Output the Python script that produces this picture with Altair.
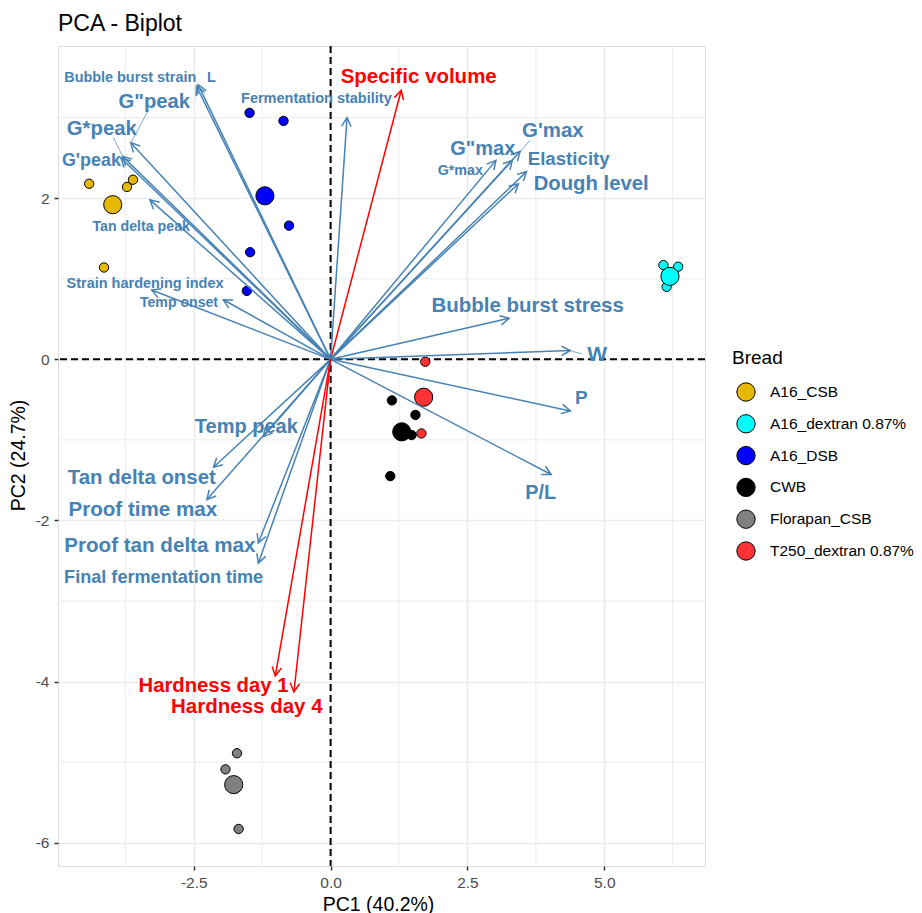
import altair as alt
import pandas as pd
import numpy as np

# ---------------- data ----------------
groups = ["A16_CSB", "A16_dextran 0.87%", "A16_DSB", "CWB", "Florapan_CSB", "T250_dextran 0.87%"]
group_colors = ["#E7B800", "#00FFFF", "#0000FF", "#000000", "#808080", "#FF3333"]

ind_group = (["A16_CSB"] * 4 + ["A16_DSB"] * 5 + ["A16_dextran 0.87%"] * 3
             + ["CWB"] * 4 + ["Florapan_CSB"] * 3 + ["T250_dextran 0.87%"] * 2)
ind_x = [-4.41, -3.61, -3.72, -4.14,
         -1.48, -0.86, -0.76, -1.47, -1.53,
         6.08, 6.35, 6.14,
         1.12, 1.55, 1.48, 1.09,
         -1.71, -1.92, -1.68,
         1.73, 1.66]
ind_y = [2.18, 2.23, 2.14, 1.14,
         3.06, 2.96, 1.66, 1.33, 0.85,
         1.17, 1.15, 0.90,
         -0.51, -0.69, -0.94, -1.45,
         -4.89, -5.09, -5.83,
         -0.03, -0.92]

mean_group = ["A16_CSB", "A16_dextran 0.87%", "A16_DSB", "CWB", "Florapan_CSB", "T250_dextran 0.87%"]
mean_x = [-3.98, 6.20, -1.20, 1.30, -1.77, 1.70]
mean_y = [1.92, 1.03, 2.03, -0.90, -5.28, -0.47]

var_names = ["Specific volume", "Fermentation stability", "Bubble burst strain", "L",
             "G\"peak", "G*peak", "G'peak", "Tan delta peak", "Strain hardening index",
             "Temp onset", "G*max", "G\"max", "G'max", "Elasticity", "Dough level",
             "Bubble burst stress", "W", "P", "P/L", "Temp peak", "Tan delta onset",
             "Proof time max", "Proof tan delta max", "Final fermentation time",
             "Hardness day 1", "Hardness day 4"]
var_tip_x = [1.29, 0.30, -2.45, -2.42, -3.65, -3.80, -3.83, -3.30, -3.27, -1.96,
             3.02, 3.32, 3.46, 3.58, 3.43, 3.26, 4.38, 4.38, 4.03, -1.23, -2.14,
             -2.26, -1.32, -1.32, -1.01, -0.67]
var_tip_y = [3.34, 3.00, 3.39, 3.41, 2.69, 2.52, 2.50, 1.98, 0.86, 0.74,
             2.47, 2.47, 2.58, 2.33, 2.18, 0.51, 0.11, -0.64, -1.43, -0.96, -1.34,
             -1.74, -2.28, -2.53, -3.93, -4.13]
var_lab_x = [1.61, -0.26, -3.66, -2.18, -3.22, -4.18, -4.37, -3.46, -3.39, -2.77,
             2.37, 2.78, 4.06, 4.35, 4.76, 3.60, 4.87, 4.58, 3.84, -1.54, -3.45,
             -3.43, -3.12, -3.05, -2.14, -1.53]
var_lab_y = [3.51, 3.23, 3.49, 3.49, 3.20, 2.86, 2.46, 1.64, 0.94, 0.70,
             2.34, 2.61, 2.84, 2.49, 2.18, 0.66, 0.06, -0.48, -1.66, -0.84, -1.47,
             -1.87, -2.32, -2.72, -4.05, -4.32]
var_lab_size = [20.5, 14.5, 14.4, 14.4, 20.3, 20.3, 17.9, 14.2, 14.5, 14.1,
                14.3, 20.0, 20.4, 18.7, 20.3, 20.5, 21.0, 19.0, 19.9, 20.0, 20.4,
                20.6, 20.6, 18.1, 20.3, 20.5]
var_color = ["#FF0000"] + ["#4682B4"] * 23 + ["#FF0000", "#FF0000"]

lead_x1 = [-3.33, -3.97, 3.64, 4.41]
lead_y1 = [3.09, 2.76, 2.72, 0.10]
lead_x2 = [-3.64, -3.80, 3.46, 4.59]
lead_y2 = [2.70, 2.52, 2.57, 0.07]

x_major = [-2.5, 0.0, 2.5, 5.0]
y_major = [-6, -4, -2, 0, 2]
x_minor = [-3.75, -1.25, 1.25, 3.75, 6.25]
y_minor = [-5, -3, -1, 1, 3]

# ---------------- layout ----------------
W, H = 647, 820
XD = [-4.98, 6.84]
YD = [-6.29, 3.89]
FONT = "Liberation Sans"

xs = alt.Scale(domain=XD, nice=False, zero=False)
ys = alt.Scale(domain=YD, nice=False, zero=False)

axis_common = dict(grid=True, gridColor="#EBEBEB", gridWidth=1.6, domain=False,
                   ticks=True, tickSize=4, tickWidth=1.5, tickColor="#333333",
                   labelFont=FONT, labelFontSize=15.5, labelColor="#4D4D4D",
                   labelPadding=5, labelFlush=False, labelOverlap=False,
                   titleFont=FONT, titleFontSize=19.5, titleFontWeight="normal",
                   titleColor="black", titleAlign="center", titleBaseline="middle")
xaxis = alt.Axis(values=x_major, title="PC1 (40.2%)",
                 labelExpr="replace(format(datum.value, '.1f'), '\u2212', '-')",
                 titleX=320, titleY=38, **axis_common)
yaxis = alt.Axis(values=y_major, title="PC2 (24.7%)",
                 labelExpr="replace(format(datum.value, 'd'), '\u2212', '-')",
                 titleX=-40, titleY=409, titleAngle=270, **axis_common)


def X(f):
    return alt.X(f, type="quantitative", scale=xs, axis=xaxis)


def Y(f):
    return alt.Y(f, type="quantitative", scale=ys, axis=yaxis)


# ---------------- frames ----------------
pts = pd.DataFrame({
    "group": ind_group + mean_group,
    "x": ind_x + mean_x,
    "y": ind_y + mean_y,
    "sz": [87] * len(ind_x) + [330] * len(mean_x),
})

kx = W / (XD[1] - XD[0])
ky = H / (YD[1] - YD[0])
tx = np.array(var_tip_x)
ty = np.array(var_tip_y)
ang = np.degrees(np.arctan2(tx * kx, ty * ky)) % 360

dv = pd.DataFrame({
    "name": var_names, "x0": 0.0, "y0": 0.0,
    "tx": var_tip_x, "ty": var_tip_y, "ang": ang,
    "lx": var_lab_x, "ly": var_lab_y, "fs": var_lab_size, "col": var_color,
})
dl = pd.DataFrame({"x1": lead_x1, "y1": lead_y1, "x2": lead_x2, "y2": lead_y2})

# ---------------- layers ----------------
minor_v = alt.Chart(pd.DataFrame({"v": x_minor})).mark_rule(
    color="#EBEBEB", strokeWidth=1).encode(x=X("v"))
minor_h = alt.Chart(pd.DataFrame({"v": y_minor})).mark_rule(
    color="#EBEBEB", strokeWidth=1).encode(y=Y("v"))

zero_v = alt.Chart(pd.DataFrame({"v": [0.0]})).mark_rule(
    color="black", strokeWidth=2, strokeDash=[7, 4]).encode(x=X("v"))
zero_h = alt.Chart(pd.DataFrame({"v": [0.0]})).mark_rule(
    color="black", strokeWidth=2, strokeDash=[7, 4]).encode(y=Y("v"))

points = alt.Chart(pts).mark_circle(stroke="black", strokeWidth=1, opacity=1).encode(
    x=X("x"), y=Y("y"),
    color=alt.Color("group:N", scale=alt.Scale(domain=groups, range=group_colors),
                    legend=alt.Legend(
                        title="Bread", orient="none", legendX=674, legendY=303,
                        titleFont=FONT, titleFontSize=19, titleFontWeight="normal",
                        titleColor="black", titlePadding=14,
                        labelFont=FONT, labelFontSize=15.5, labelColor="black",
                        labelOffset=14, symbolType="circle", symbolSize=336,
                        symbolStrokeColor="black", symbolStrokeWidth=1,
                        symbolOpacity=1, symbolOffset=4, rowPadding=7.8, padding=0)),
    size=alt.Size("sz:Q", scale=None),
)

shafts = alt.Chart(dv).mark_rule(strokeWidth=1.5).encode(
    x=X("x0"), y=Y("y0"), x2="tx:Q", y2="ty:Q",
    stroke=alt.Stroke("col:N", scale=None),
)

heads = alt.Chart(dv).mark_point(
    shape="M-0.47,0.88L0,0L0.47,0.88", filled=False, size=400,
    strokeWidth=1.5, opacity=1).encode(
    x=X("tx"), y=Y("ty"),
    angle=alt.Angle("ang:Q", scale=None),
    stroke=alt.Stroke("col:N", scale=None),
)

leaders = alt.Chart(dl).mark_rule(color="#4682B4", strokeWidth=0.7).encode(
    x=X("x1"), y=Y("y1"), x2="x2:Q", y2="y2:Q")

labels = alt.Chart(dv).mark_text(font=FONT, fontWeight="bold").encode(
    x=X("lx"), y=Y("ly"), text="name:N",
    size=alt.Size("fs:Q", scale=None),
    fill=alt.Fill("col:N", scale=None),
)

chart = alt.layer(
    minor_v, minor_h, zero_v, zero_h, points, shafts, heads, leaders, labels
).properties(
    width=W, height=H,
    title=alt.TitleParams("PCA - Biplot", anchor="start", frame="group",
                          font=FONT, fontSize=23, fontWeight="normal",
                          color="black", offset=14, baseline="alphabetic", dy=23),
    padding={"left": 50, "top": 38, "right": 209, "bottom": 58},
    autosize=alt.AutoSizeParams(type="none"),
).configure_view(stroke=None).configure(font=FONT)

chart.save("out.html", embed_options={"renderer": "svg", "actions": False})
